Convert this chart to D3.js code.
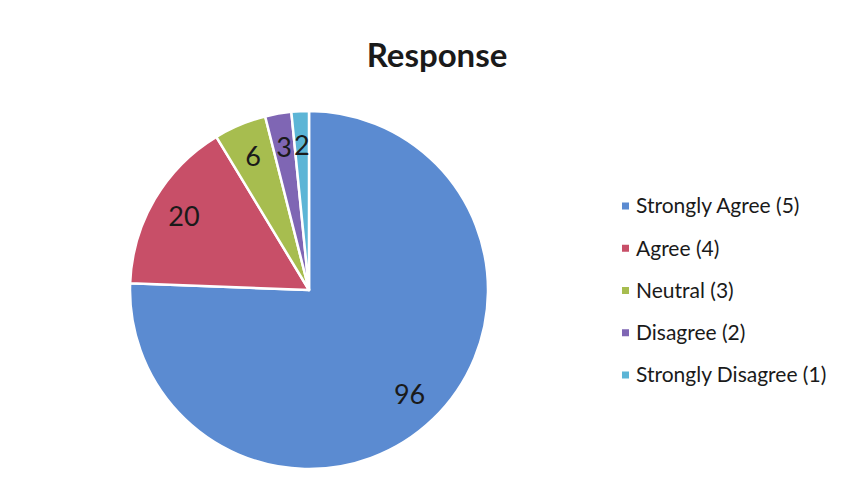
<!DOCTYPE html>
<html>
<head>
<meta charset="utf-8">
<script src="https://cdn.jsdelivr.net/npm/d3@7"></script>
<style>
  body { margin: 0; background: #fff; }
  text { font-family: Lato, "Open Sans", sans-serif; fill: #1a1a1a; }
</style>
</head>
<body>
<div id="chart"></div>
<script>
// Chart data
const categories = ["Strongly Agree (5)", "Agree (4)", "Neutral (3)", "Disagree (2)", "Strongly Disagree (1)"];
const values = [96, 20, 6, 3, 2];
const colors = ["#5b8bd1", "#c84f68", "#a7bd4f", "#7f66b4", "#5cb5d6"];
const title = "Response";

const width = 842, height = 496;
const cx = 309, cy = 290, radius = 179;

const svg = d3.select("#chart").append("svg")
  .attr("width", width)
  .attr("height", height);

// Title
svg.append("text")
  .attr("x", 437)
  .attr("y", 67)
  .attr("text-anchor", "middle")
  .style("font-size", "33px")
  .style("font-weight", "bold")
  .text(title);

const data = categories.map((c, i) => ({ cat: c, value: values[i], color: colors[i] }));

// Pie layout, clockwise from 12 o'clock in data order
const pie = d3.pie().value(d => d.value).sort(null);
const arc = d3.arc().innerRadius(0).outerRadius(radius);
const labelArc = d3.arc().innerRadius(145).outerRadius(145);

const g = svg.append("g").attr("transform", `translate(${cx},${cy})`);

const slices = g.selectAll(".slice")
  .data(pie(data))
  .enter().append("g")
  .attr("class", "slice");

slices.append("path")
  .attr("d", arc)
  .attr("fill", d => d.data.color)
  .attr("stroke", "#fff")
  .attr("stroke-width", 2.5)
  .attr("stroke-linejoin", "round");

slices.append("text")
  .attr("transform", d => `translate(${labelArc.centroid(d)})`)
  .attr("text-anchor", "middle")
  .attr("dy", "0.36em")
  .style("font-size", "27px")
  .text(d => d.data.value);

// Legend
const legend = svg.append("g").attr("transform", "translate(622,206)");
const rowScale = d3.scalePoint().domain(categories).range([0, 169]);

const rows = legend.selectAll(".row")
  .data(data)
  .enter().append("g")
  .attr("class", "row")
  .attr("transform", d => `translate(0,${rowScale(d.cat)})`);

rows.append("rect")
  .attr("x", 0)
  .attr("y", -3.5)
  .attr("width", 7)
  .attr("height", 7)
  .attr("fill", d => d.color);

rows.append("text")
  .attr("x", 14)
  .attr("dy", "0.35em")
  .style("font-size", "21px")
  .text(d => d.cat);
</script>
</body>
</html>
